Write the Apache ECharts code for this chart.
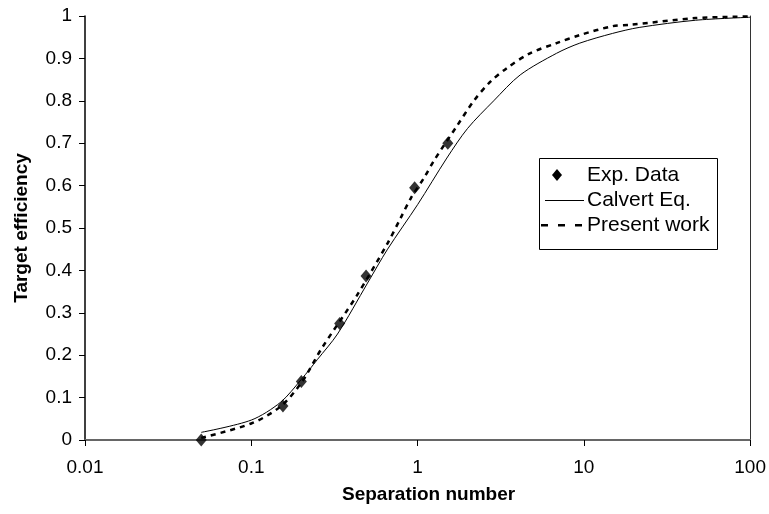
<!DOCTYPE html>
<html>
<head>
<meta charset="utf-8">
<script src="https://cdn.jsdelivr.net/npm/echarts@6/dist/echarts.min.js"></script>
<style>
  html, body { margin: 0; padding: 0; background: #fff; }
  #chart { width: 769px; height: 514px; }
</style>
</head>
<body>
<div id="chart"></div>
<script>
// Measured target efficiency against separation number
const expSep = [0.05, 0.155, 0.2, 0.34, 0.49, 0.96, 1.52];
const expEff = [0.0, 0.08, 0.138, 0.275, 0.387, 0.595, 0.70];

// Calvert equation curve
const calvertSep = [0.05, 0.1, 0.15, 0.2, 0.25, 0.33, 0.5, 0.66, 1.0, 1.5, 2.0, 2.87, 4.14, 6.85, 9.45, 14.9, 21.5, 47, 100];
const calvertEff = [0.018, 0.047, 0.089, 0.143, 0.19, 0.25, 0.37, 0.45, 0.555, 0.665, 0.735, 0.80, 0.861, 0.912, 0.936, 0.959, 0.973, 0.99, 0.997];

// Present model curve
const presentSep = [0.05, 0.1, 0.15, 0.2, 0.265, 0.43, 0.66, 0.79, 0.91, 1.1, 1.26, 1.72, 2.18, 2.74, 3.44, 4.74, 6.85, 9.45, 14.9, 18.8, 47, 100];
const presentEff = [0.005, 0.039, 0.079, 0.135, 0.216, 0.34, 0.464, 0.523, 0.57, 0.62, 0.66, 0.74, 0.80, 0.845, 0.877, 0.912, 0.936, 0.955, 0.976, 0.979, 0.995, 0.999];

const xTickLabels = ['0.01', '0.1', '1', '10', '100'];
const legendNames = ['Exp. Data', 'Calvert Eq.', 'Present work'];

const pairs = (xs, ys) => xs.map((x, i) => [x, ys[i]]);

const font = '"Liberation Sans", Arial, sans-serif';
const chart = echarts.init(document.getElementById('chart'), null, { renderer: 'canvas' });

// Boxed key in the right half of the plot, drawn as a graphic group
const legendRowY = [17, 42, 67];
const legendText = legendNames.map((name, i) => ({
  type: 'text',
  x: 48, y: legendRowY[i],
  style: { text: name, fill: '#000', font: '21px ' + font, textVerticalAlign: 'middle', verticalAlign: 'middle' }
}));
const legendGroup = {
  type: 'group',
  left: 539, top: 158,
  children: [
    { type: 'rect', shape: { x: 0.5, y: 0.5, width: 178, height: 91 }, style: { fill: '#fff', stroke: '#000', lineWidth: 1 } },
    { type: 'polygon', shape: { points: [[18, legendRowY[0] - 6], [23, legendRowY[0]], [18, legendRowY[0] + 6], [13, legendRowY[0]]] }, style: { fill: '#000' } },
    { type: 'line', shape: { x1: 6, y1: legendRowY[1] + 0.5, x2: 45, y2: legendRowY[1] + 0.5 }, style: { stroke: '#000', lineWidth: 1 } },
    { type: 'rect', shape: { x: 2, y: legendRowY[2] - 1, width: 7, height: 2.5 }, style: { fill: '#000' } },
    { type: 'rect', shape: { x: 19, y: legendRowY[2] - 1, width: 7, height: 2.5 }, style: { fill: '#000' } },
    { type: 'rect', shape: { x: 36, y: legendRowY[2] - 1, width: 7, height: 2.5 }, style: { fill: '#000' } }
  ].concat(legendText)
};

chart.setOption({
  animation: false,
  backgroundColor: '#fff',
  grid: { left: 85, right: 17, top: 16, bottom: 74, containLabel: false },
  xAxis: [{
    type: 'log',
    logBase: 10,
    min: 0.01,
    max: 100,
    name: 'Separation number',
    nameLocation: 'middle',
    nameGap: 45,
    nameTextStyle: { fontFamily: font, fontWeight: 'bold', fontSize: 19, color: '#000', padding: [0, 0, 0, 22] },
    axisLine: { lineStyle: { color: '#000', width: 1.5 } },
    axisTick: { show: true, inside: false, length: 6, lineStyle: { color: '#000' } },
    minorTick: { show: false },
    splitLine: { show: false },
    axisLabel: {
      margin: 18,
      fontFamily: font, fontSize: 19, color: '#000',
      formatter: v => {
        const k = Math.round(Math.log10(v)) + 2;
        return xTickLabels[k] !== undefined ? xTickLabels[k] : '';
      }
    }
  }, {
    type: 'value', position: 'top', min: 0, max: 1,
    axisLine: { show: true, lineStyle: { color: '#666', width: 2 } },
    axisTick: { show: false }, axisLabel: { show: false }, splitLine: { show: false }
  }],
  yAxis: [{
    type: 'value',
    min: 0,
    max: 1,
    interval: 0.1,
    name: 'Target efficiency',
    nameLocation: 'middle',
    nameRotate: 90,
    nameGap: 54,
    nameTextStyle: { fontFamily: font, fontWeight: 'bold', fontSize: 19, color: '#000' },
    axisLine: { show: true, lineStyle: { color: '#000', width: 1.5 } },
    axisTick: { show: true, inside: false, length: 6, lineStyle: { color: '#000' } },
    splitLine: { show: false },
    axisLabel: {
      margin: 13,
      fontFamily: font, fontSize: 19, color: '#000',
      formatter: v => String(Math.round(v * 10) / 10)
    }
  }, {
    type: 'value', position: 'right', min: 0, max: 1,
    axisLine: { show: true, lineStyle: { color: '#333', width: 1 } },
    axisTick: { show: false }, axisLabel: { show: false }, splitLine: { show: false }
  }],
  legend: { show: false },
  graphic: [legendGroup],
  series: [
    {
      name: legendNames[1],
      type: 'line',
      data: pairs(calvertSep, calvertEff),
      smooth: 0.3,
      symbol: 'none',
      lineStyle: { color: '#000', width: 1 },
      itemStyle: { color: '#000' },
      z: 2
    },
    {
      name: legendNames[2],
      type: 'line',
      data: pairs(presentSep, presentEff),
      smooth: 0.3,
      symbol: 'none',
      lineStyle: { color: '#000', width: 2.5, type: [5, 5] },
      itemStyle: { color: '#000' },
      z: 3
    },
    {
      name: legendNames[0],
      type: 'scatter',
      data: pairs(expSep, expEff),
      symbol: 'diamond',
      symbolSize: [11, 13],
      itemStyle: { color: '#000' },
      z: 4
    }
  ]
});
</script>
</body>
</html>
